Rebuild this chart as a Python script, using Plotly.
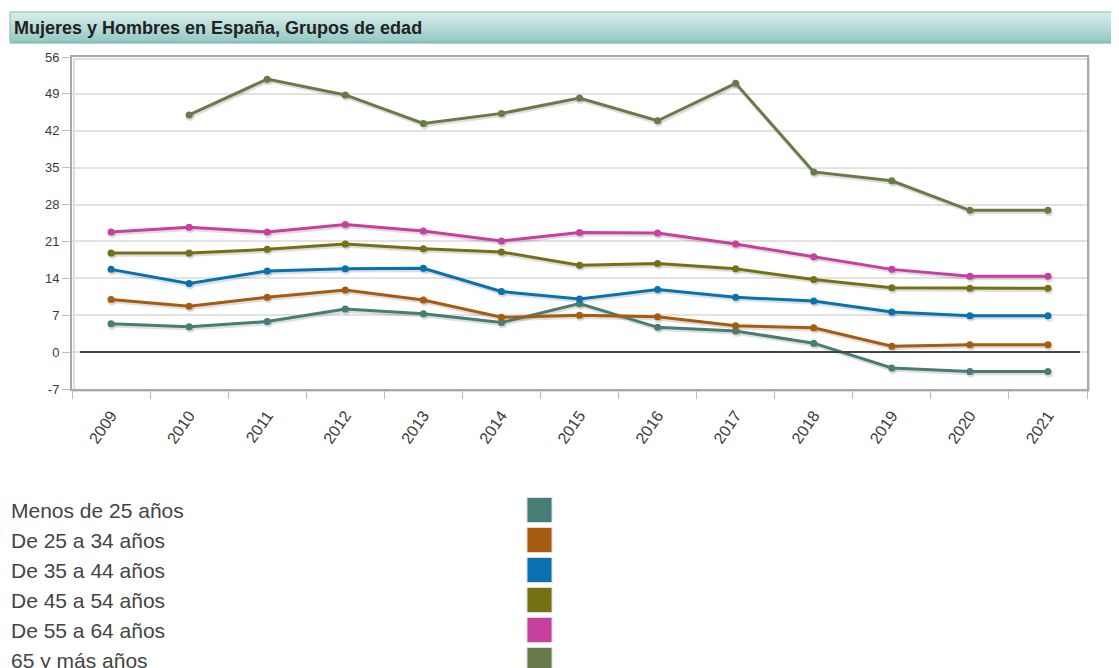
import plotly.graph_objects as go

years = ["2009", "2010", "2011", "2012", "2013", "2014", "2015",
         "2016", "2017", "2018", "2019", "2020", "2021"]

series_names = ["Menos de 25 años", "De 25 a 34 años", "De 35 a 44 años",
                "De 45 a 54 años", "De 55 a 64 años", "65 y más años"]

menos_25 = [5.4, 4.8, 5.8, 8.2, 7.3, 5.6, 9.2, 4.7, 4.0, 1.7, -3.0, -3.7, -3.7]
de_25_34 = [10.0, 8.7, 10.4, 11.8, 9.9, 6.6, 7.0, 6.7, 5.0, 4.6, 1.1, 1.4, 1.4]
de_35_44 = [15.7, 13.0, 15.4, 15.8, 15.9, 11.5, 10.1, 11.9, 10.4, 9.7, 7.6, 6.9, 6.9]
de_45_54 = [18.8, 18.8, 19.5, 20.5, 19.6, 19.0, 16.5, 16.8, 15.8, 13.8, 12.2, 12.1, 12.1]
de_55_64 = [22.8, 23.7, 22.8, 24.2, 23.0, 21.1, 22.7, 22.6, 20.5, 18.1, 15.7, 14.4, 14.4]
mas_65 = [None, 45.0, 51.8, 48.8, 43.4, 45.3, 48.2, 43.9, 51.0, 34.2, 32.5, 26.9, 26.9]

series_values = [menos_25, de_25_34, de_35_44, de_45_54, de_55_64, mas_65]
series_colors = ["#467d74", "#a65b0e", "#0872b0", "#747114", "#c6409e", "#687a49"]

y_ticks = [-7, 0, 7, 14, 21, 28, 35, 42, 49, 56]

# page body has an 8px margin: all screen positions below are offset by it
OFF = 8
W, H = 1119 - OFF, 668 - OFF
L, R, T, B = 72 - OFF, 1087 - OFF, 57 - OFF, 389 - OFF
PW, PH = R - L, B - T

XR = [-0.5, 12.5]
YR = [-7, 56]
dx = 1.0 * (XR[1] - XR[0]) / PW   # 1px in category units
dy = 2.0 * (YR[1] - YR[0]) / PH   # 2px in value units


def px_x(px):
    return (px - OFF - L) / PW


def px_y(py):
    return (B - (py - OFF)) / PH


fig = go.Figure()

# base trace to register categories on the main axes (invisible)
fig.add_trace(go.Scatter(x=years, y=menos_25, mode="lines",
                         line=dict(color="rgba(0,0,0,0)"), hoverinfo="skip",
                         showlegend=False))

# soft drop shadows (drawn on an overlay axis pair shifted by a few pixels)
for vals in series_values:
    fig.add_trace(go.Scatter(
        x=years, y=vals, mode="lines+markers", xaxis="x2", yaxis="y2",
        line=dict(color="rgba(0,0,0,0.13)", width=3.5),
        marker=dict(color="rgba(0,0,0,0.13)", size=8),
        hoverinfo="skip", showlegend=False,
    ))

for name, vals, col in zip(series_names, series_values, series_colors):
    fig.add_trace(go.Scatter(
        x=years, y=vals, name=name, mode="lines+markers", xaxis="x3", yaxis="y3",
        line=dict(color=col, width=3),
        marker=dict(color=col, size=7),
        connectgaps=False, showlegend=False,
    ))

shapes = []
annotations = []

# plot frame shadow
shapes.append(dict(type="rect", xref="paper", yref="paper",
                   x0=px_x(72 + 2), x1=px_x(1087 + 2), y0=px_y(389 + 2), y1=px_y(57 + 2),
                   line=dict(color="#dedede", width=2), layer="below"))

# zero line
shapes.append(dict(type="line", xref="paper", yref="y",
                   x0=px_x(80), x1=px_x(1080), y0=0, y1=0,
                   line=dict(color="#444444", width=2)))

# title bar gradient
top_c = (216, 238, 235)
bot_c = (140, 196, 190)
y_top, y_bot = 12, 43
n_strips = 16
for i in range(n_strips):
    t = i / (n_strips - 1)
    c = tuple(int(round(top_c[k] + (bot_c[k] - top_c[k]) * t)) for k in range(3))
    a = y_top + (y_bot - y_top) * i / n_strips
    b = y_top + (y_bot - y_top) * (i + 1) / n_strips
    shapes.append(dict(type="rect", xref="paper", yref="paper",
                       x0=px_x(10), x1=px_x(1130), y0=px_y(b + 0.3), y1=px_y(a),
                       fillcolor="rgb(%d,%d,%d)" % c, line=dict(width=0), layer="below"))
shapes.append(dict(type="rect", xref="paper", yref="paper",
                   x0=px_x(10), x1=px_x(1130), y0=px_y(y_bot), y1=px_y(y_top),
                   fillcolor="rgba(0,0,0,0)", line=dict(color="#86b9b3", width=1)))

annotations.append(dict(text="<b>Mujeres y Hombres en España, Grupos de edad</b>",
                        xref="paper", yref="paper", x=px_x(12), y=px_y(28),
                        xanchor="left", yanchor="middle", showarrow=False,
                        font=dict(family="Liberation Sans, Arial", size=18, color="#222222")))

# custom legend
for i, (name, col) in enumerate(zip(series_names, series_colors)):
    cy = 510 + 30 * i
    annotations.append(dict(text=name, xref="paper", yref="paper",
                            x=px_x(9), y=px_y(cy), xanchor="left", yanchor="middle",
                            showarrow=False,
                            font=dict(family="Liberation Sans, Arial", size=21, color="#444444")))
    shapes.append(dict(type="rect", xref="paper", yref="paper",
                       x0=px_x(527), x1=px_x(552), y0=px_y(cy + 12.5), y1=px_y(cy - 12.5),
                       fillcolor=col, line=dict(color="#dddddd", width=1)))

hidden_x = dict(type="category", categoryarray=years, visible=False, fixedrange=True)
hidden_y = dict(visible=False, fixedrange=True)

fig.update_layout(
    width=W, height=H,
    margin=dict(l=L, r=W - R, t=T, b=H - B, pad=0),
    paper_bgcolor="white", plot_bgcolor="white",
    shapes=shapes, annotations=annotations,
    hovermode="closest",
    font=dict(family="Liberation Sans, Arial", color="#333333"),
    xaxis=dict(type="category", categoryarray=years, tickson="boundaries",
               ticks="outside", ticklen=8,
               tickcolor="#bbbbbb", tickwidth=1, tickangle=-55,
               ticklabelstandoff=9,
               tickfont=dict(size=16, color="#3a3a3a"),
               showgrid=False, showline=True, linecolor="#a8a8a8", linewidth=2,
               mirror=True, range=XR, fixedrange=True),
    yaxis=dict(range=YR, tickvals=y_ticks, ticktext=[str(v) for v in y_ticks],
               ticks="outside", ticklen=8, tickcolor="#bbbbbb",
               tickfont=dict(size=13, color="#3a3a3a"),
               showgrid=True, gridcolor="#e2e2e2", gridwidth=2,
               zeroline=False, showline=True, linecolor="#a8a8a8", linewidth=2,
               mirror=True, fixedrange=True),
    xaxis2=dict(hidden_x, overlaying="x", range=[XR[0] - dx, XR[1] - dx]),
    yaxis2=dict(hidden_y, overlaying="y", range=[YR[0] + dy, YR[1] + dy]),
    xaxis3=dict(hidden_x, overlaying="x", range=XR),
    yaxis3=dict(hidden_y, overlaying="y", range=YR),
)

fig.write_html("out.html")
